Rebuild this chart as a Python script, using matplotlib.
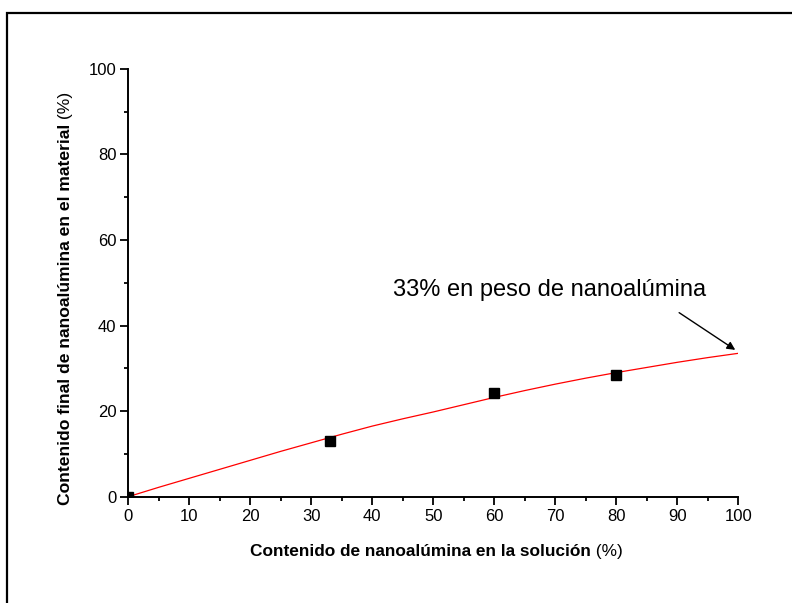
import numpy as np
import matplotlib.pyplot as plt
from matplotlib.patches import Rectangle
from matplotlib.ticker import MultipleLocator

plt.rcParams['font.family'] = ['Liberation Sans', 'DejaVu Sans']

# measured points
sol_pct = [0, 33, 60, 80]
final_pct = [0, 12.9, 24.3, 28.5]

# fitted curve
fit_x = [0, 5, 10, 15, 20, 25, 30, 35, 40, 45, 50, 55, 60, 65, 70, 75, 80, 85, 90, 95, 100]
fit_y = [0, 2.2, 4.3, 6.4, 8.5, 10.6, 12.6, 14.6, 16.5, 18.2, 19.8, 21.5, 23.2, 24.8,
         26.3, 27.7, 29.0, 30.2, 31.4, 32.5, 33.5]

note = '33% en peso de nanoalúmina'
xlab = 'Contenido de nanoalúmina en la solución'
ylab = 'Contenido final de nanoalúmina en el material'

fig = plt.figure(figsize=(7.92, 6.03), dpi=100)

# outer frame, only left and top edges show
fig.patches.append(Rectangle((7 / 792, -0.2), 1.2, (603 - 13) / 603 + 0.2,
                             transform=fig.transFigure, fill=False,
                             edgecolor='black', linewidth=1.6))

ax = fig.add_axes([128.3 / 792, 106.3 / 603, 610 / 792, 428 / 603])
ax.plot(fit_x, fit_y, color='red', linewidth=0.9)
ax.plot(sol_pct, final_pct, linestyle='none', marker='s', markersize=7,
        color='black')

ax.set_xlim(0, 100)
ax.set_ylim(0, 100)
ax.xaxis.set_major_locator(MultipleLocator(10))
ax.xaxis.set_minor_locator(MultipleLocator(5))
ax.yaxis.set_major_locator(MultipleLocator(20))
ax.yaxis.set_minor_locator(MultipleLocator(10))

for side in ['top', 'right']:
    ax.spines[side].set_visible(False)
for side in ['left', 'bottom']:
    ax.spines[side].set_linewidth(1.4)

ax.tick_params(which='major', direction='out', length=5.5, width=1.3, labelsize=12, pad=3)
ax.tick_params(which='minor', direction='out', length=3, width=1.3)

# axis titles: bold part then plain "(%)"
xt = ax.text(0.1995, -0.127, xlab, transform=ax.transAxes,
             ha='left', va='center', fontsize=12.4, fontweight='bold')
ax.annotate(' (%)', xy=(1, 0), xycoords=xt, ha='left', va='bottom', fontsize=12.4)

yt = fig.text(66 / 792, (603 - 505) / 603, ylab, rotation=90,
              ha='center', va='bottom', fontsize=12.6, fontweight='bold')
ax.annotate(' (%)', xy=(0, 1), xycoords=yt, ha='left', va='bottom',
            rotation=90, fontsize=12.6)

ax.text(43.4, 48.2, note, fontsize=17, ha='left', va='center')
ax.annotate('', xy=(99.5, 34.3), xytext=(90.3, 43.0),
            arrowprops=dict(arrowstyle='-|>', color='black', lw=1.0,
                            mutation_scale=12, shrinkA=0, shrinkB=0))

fig.savefig('out.png', dpi=100)
